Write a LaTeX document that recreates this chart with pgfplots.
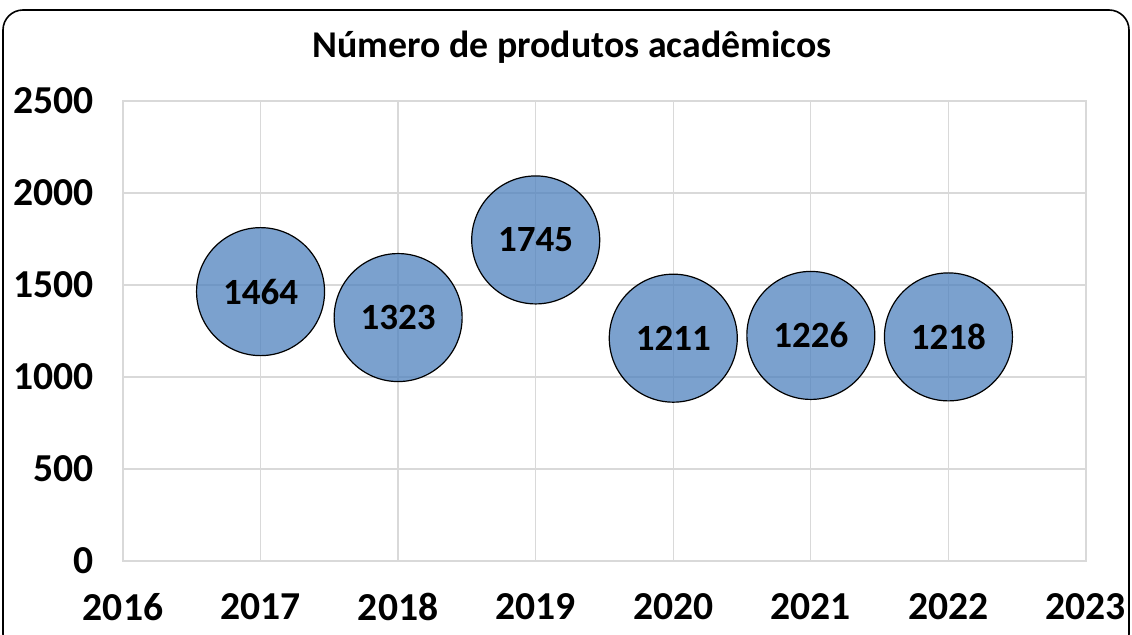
\documentclass[border=0pt]{standalone}
\usepackage{pgfplots}
\pgfplotsset{compat=1.18}
\usepackage{fontspec}
\setmainfont{Carlito}
\definecolor{bub}{HTML}{4F81BD}
\definecolor{gridc}{HTML}{D9D9D9}
\begin{document}
\begin{tikzpicture}[x=1pt,y=1pt]
\useasboundingbox (0,0) rectangle (566,317);
\draw[black, line width=0.8pt, rounded corners=10pt] (1.5,312) rectangle (564.5,-10);
\node[font=\bfseries\fontsize{18.9}{21}\selectfont] at (286,293.5) {Número de produtos acadêmicos};
\begin{axis}[
  at={(61.5pt,36.5pt)}, anchor=south west,
  scale only axis, width=481.5pt, height=230pt,
  xmin=2016, xmax=2023, ymin=0, ymax=2500,
  xtick={2016,...,2023}, ytick={0,500,...,2500},
  grid=major, grid style={gridc, line width=0.6pt},
  axis line style={gridc, line width=0.6pt},
  major tick length=0pt,
  /pgf/number format/1000 sep={},
  /pgf/number format/assume math mode=true,
  tick label style={font=\bfseries\fontsize{19.8}{22}\selectfont},
  yticklabel style={xshift=-11pt},
  xticklabel style={yshift=-12.5pt},
  clip=false,
]
\addplot[only marks, mark=*, mark size=32pt,
  mark options={fill=bub, fill opacity=0.75, draw=black, line width=0.6pt},
  nodes near coords, point meta=explicit symbolic,
  nodes near coords align={center},
  every node near coord/.append style={font=\bfseries\fontsize{18.5}{20}\selectfont, text=black, opacity=1, text opacity=1, fill opacity=1},
] table[meta=label] {
x y label
2017 1464 1464
2018 1323 1323
2019 1745 1745
2020 1211 1211
2021 1226 1226
2022 1218 1218
};
\end{axis}
\end{tikzpicture}
\end{document}
